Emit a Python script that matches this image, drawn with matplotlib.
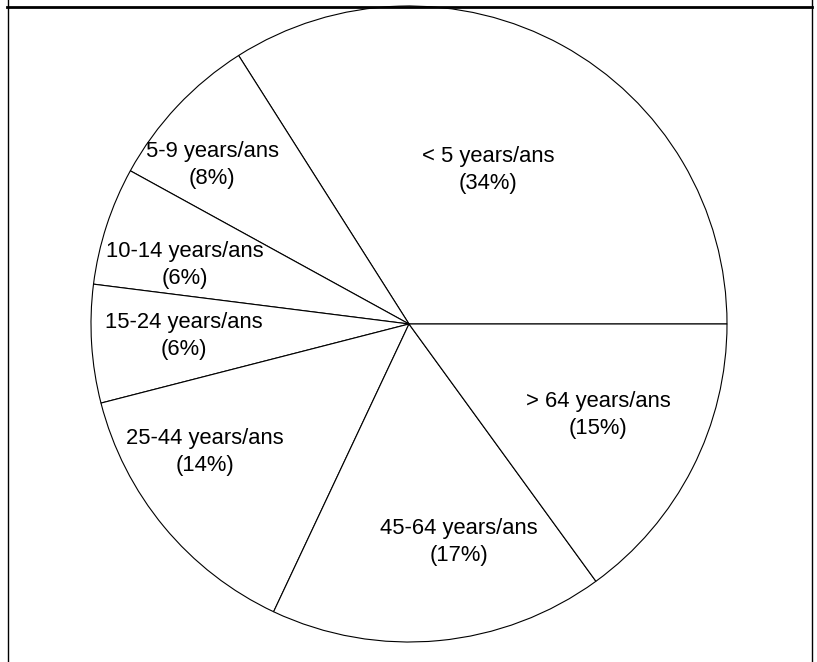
import matplotlib.pyplot as plt
import numpy as np
from matplotlib.lines import Line2D

plt.rcParams["font.family"] = ["Liberation Sans", "DejaVu Sans"]

groups = ["< 5 years/ans", "5-9 years/ans", "10-14 years/ans", "15-24 years/ans",
          "25-44 years/ans", "45-64 years/ans", "> 64 years/ans"]
shares = [34, 8, 6, 6, 14, 17, 15]

# label placement (angle in degrees, distance as fraction of radius)
label_angle = [62.8, 141, 165.3, 183, 212.1, 282.9, 334.3]
label_dist = [0.544, 0.796, 0.73, 0.708, 0.757, 0.703, 0.66]

W, H = 817, 662
fig = plt.figure(figsize=(W / 100, H / 100), dpi=100)

cx, cy, r = 409, 324, 318
ax = fig.add_axes([(cx - r) / W, (H - cy - r) / H, 2 * r / W, 2 * r / H])
ax.pie(shares, startangle=0, counterclock=True, radius=1,
       colors=["white"] * len(shares),
       wedgeprops=dict(edgecolor="black", linewidth=0.8))
ax.set_xlim(-1, 1)
ax.set_ylim(-1, 1)
ax.set_aspect("equal")
ax.axis("off")

for name, pct, ang, d in zip(groups, shares, label_angle, label_dist):
    t = np.deg2rad(ang)
    ax.text(d * np.cos(t), d * np.sin(t), f"{name}\n({pct}%)",
            ha="center", va="center", fontsize=15.8, linespacing=1.4)

# table cell border
fig.add_artist(Line2D([7 / W, 812 / W], [1 - 7 / H, 1 - 7 / H],
                      transform=fig.transFigure, color="black", linewidth=2))
fig.add_artist(Line2D([7.5 / W, 7.5 / W], [0, 1],
                      transform=fig.transFigure, color="black", linewidth=1))
fig.add_artist(Line2D([812 / W, 812 / W], [0, 1],
                      transform=fig.transFigure, color="black", linewidth=1))

fig.savefig("out.png", dpi=100, facecolor="white")
